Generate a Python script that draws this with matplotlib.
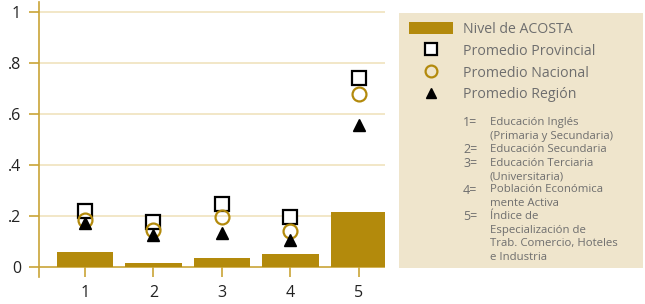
import matplotlib.pyplot as plt
from matplotlib.patches import Rectangle

plt.rcParams['font.family'] = ['Open Sans', 'DejaVu Sans']

# datos
categorias = [1, 2, 3, 4, 5]
nivel_acosta = [0.059, 0.016, 0.035, 0.051, 0.217]
prom_provincial = [0.220, 0.177, 0.248, 0.197, 0.740]
prom_nacional = [0.185, 0.146, 0.197, 0.142, 0.677]
prom_region = [0.173, 0.126, 0.134, 0.106, 0.555]
yticks = [0, 0.2, 0.4, 0.6, 0.8, 1.0]
yticklabels = ['0', '.2', '.4', '.6', '.8', '1']
notas_num = ['1=', '', '2=', '3=', '', '4=', '', '5=', '', '', '']
notas_txt = ['Educación Inglés', '(Primaria y Secundaria)', 'Educación Secundaria',
             'Educación Terciaria', '(Universitaria)', 'Población Económica',
             'mente Activa', 'Índice de', 'Especialización de',
             'Trab. Comercio, Hoteles', 'e Industria']

oro = '#b38a0c'
eje = '#c9a437'
grid_c = '#f0e3bd'
fondo = '#efe5cc'
gris = '#6e6e6e'

fig = plt.figure(figsize=(6.45, 3.04), dpi=100)

# panel de leyenda (fondo)
fig.patches.append(Rectangle((399 / 645, 1 - 268 / 304), 244 / 645, 255 / 304,
                             transform=fig.transFigure, facecolor=fondo, edgecolor='none', zorder=0))

ax = fig.add_axes([39 / 645, 27 / 304, 346 / 645, 275 / 304])
ax.set_zorder(2)
ax.patch.set_visible(False)

barras = ax.bar(categorias, nivel_acosta, width=0.82, color=oro, zorder=2, label='Nivel de ACOSTA')
cuad, = ax.plot(categorias, prom_provincial, 's', ms=10, mfc='white', mec='black', mew=1.6,
                ls='none', zorder=3, label='Promedio Provincial')
circ, = ax.plot(categorias, prom_nacional, 'o', ms=10, mfc='none', mec=oro, mew=1.6,
                ls='none', zorder=4, label='Promedio Nacional')
tri, = ax.plot(categorias, prom_region, '^', ms=9, color='black',
               ls='none', zorder=5, label='Promedio Región')

ax.set_xlim(0.33, 5.38)
ax.set_ylim(-0.04, 1.04)
ax.set_xticks(categorias)
ax.set_yticks(yticks)
ax.set_yticklabels(yticklabels)
for y in yticks[1:]:
    ax.axhline(y, color=grid_c, lw=1.2, zorder=1)
ax.axhline(0, color=eje, lw=1.2, zorder=1)

for s in ['top', 'right', 'bottom']:
    ax.spines[s].set_visible(False)
ax.spines['left'].set_color(eje)
ax.spines['left'].set_linewidth(1.2)
ax.tick_params(axis='y', direction='out', length=7, width=1.2, color=eje,
               labelsize=11.5, labelcolor='#222222', pad=6)
ax.tick_params(axis='x', direction='in', length=7, width=1.2, color=eje,
               labelsize=11.5, labelcolor='#222222', pad=6)

leg = ax.legend([barras, cuad, circ, tri],
                ['Nivel de ACOSTA', 'Promedio Provincial', 'Promedio Nacional', 'Promedio Región'],
                loc='upper left', bbox_to_anchor=(409 / 645, 1 - 22 / 304),
                bbox_transform=fig.transFigure, frameon=False, borderpad=0, borderaxespad=0,
                fontsize=10.2, labelcolor=gris, handlelength=3.1, handleheight=0.95,
                handletextpad=0.7, labelspacing=0.48, markerscale=0.85)

y0 = 123
for i, (n, t) in enumerate(zip(notas_num, notas_txt)):
    y = 1 - (y0 + i * 13.4) / 304
    if n:
        fig.text(463 / 645, y, n, fontsize=9, color=gris, va='center')
    fig.text(490 / 645, y, t, fontsize=8.2, color=gris, va='center')

fig.savefig('out.png', dpi=100)
